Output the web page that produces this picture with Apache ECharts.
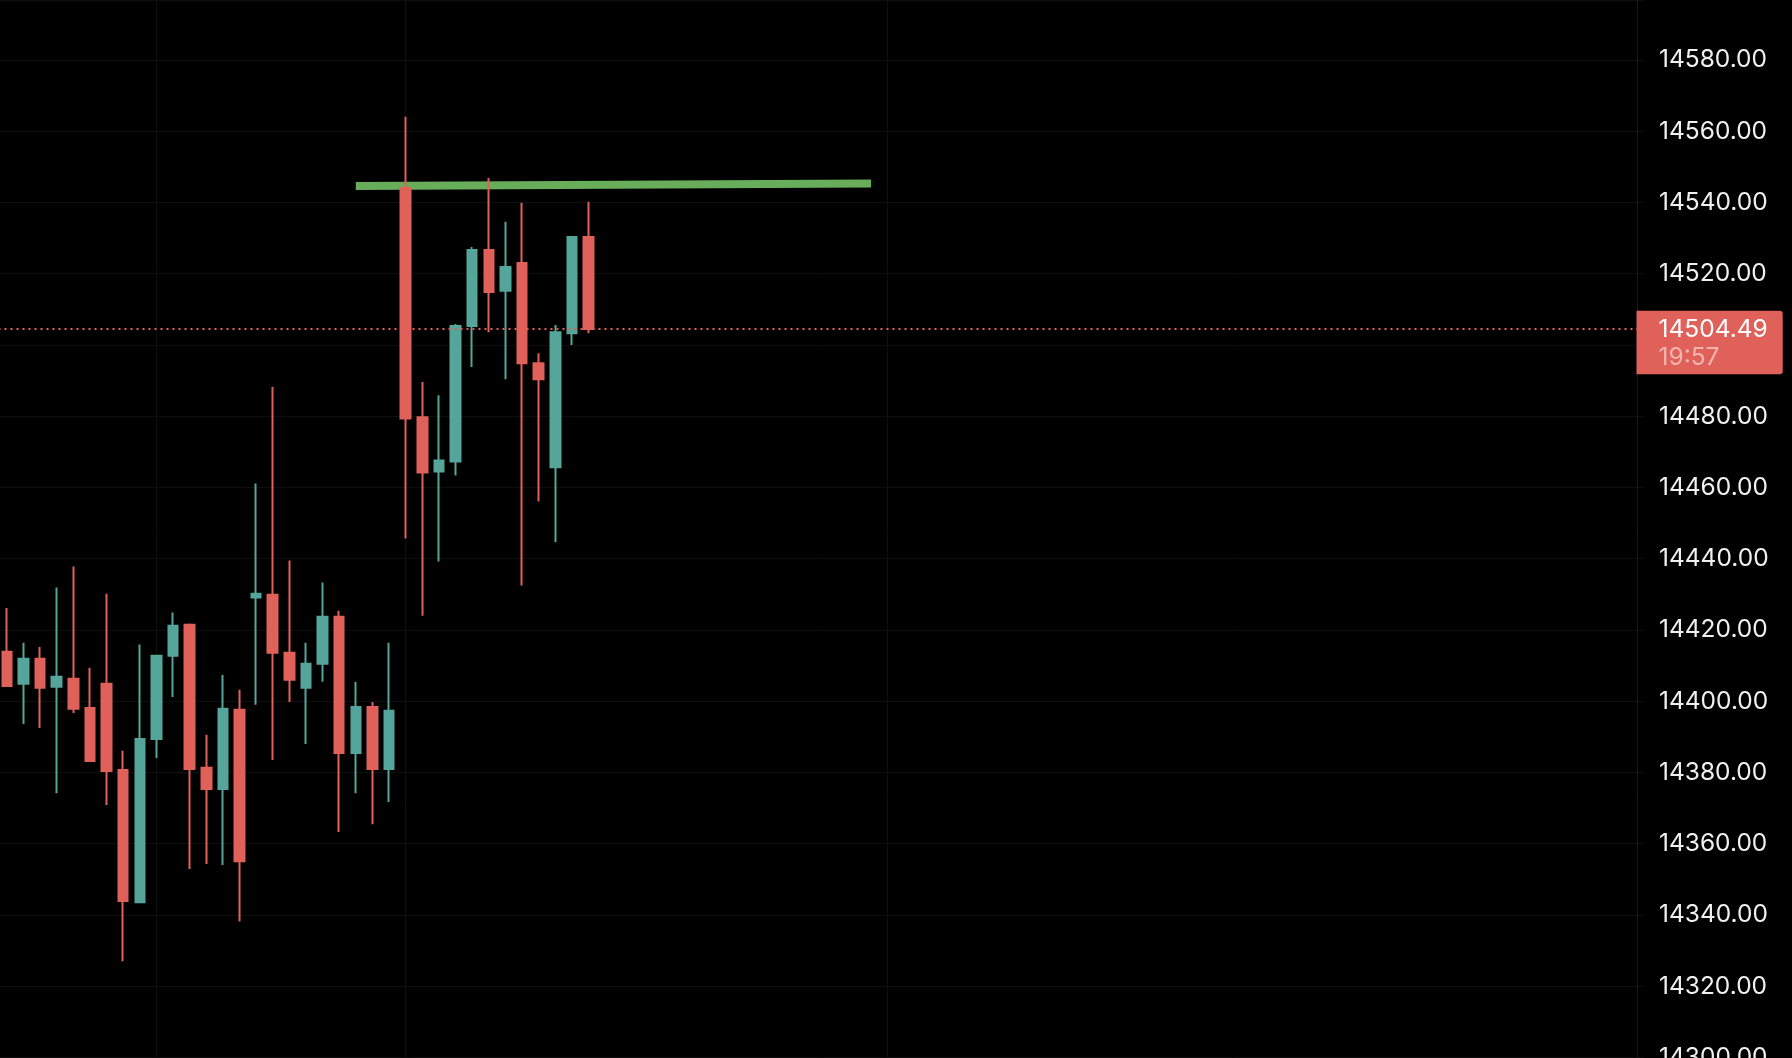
<!DOCTYPE html>
<html>
<head>
<meta charset="utf-8">
<script src="https://cdn.jsdelivr.net/npm/echarts@6/dist/echarts.min.js"></script>
<style>
html,body{margin:0;padding:0;background:#000;}
#chart{width:1792px;height:1058px;}
</style>
</head>
<body>
<div id="chart"></div>
<script>
// ---- data ----
const totalSlots = 99; // visible candle slots on the time axis
const categories = Array.from({length: totalSlots}, (_, i) => String(i));
const opens  = [14413.9,14404.9,14411.9,14404.1,14406.3,14398.1,14404.9,14380.7,14343.6,14389.4,14412.8,14421.5,14381.3,14375.4,14397.6,14429.1,14429.9,14413.6,14403.8,14410.5,14423.7,14385.5,14398.4,14381.0,14544.1,14479.7,14464.5,14467.3,14505.3,14526.7,14515.2,14523.0,14494.9,14465.7,14503.3,14530.3];
const closes = [14404.3,14411.9,14403.8,14406.9,14397.9,14383.2,14380.4,14343.9,14389.4,14412.8,14421.2,14381.0,14375.4,14397.9,14355.1,14430.2,14413.6,14406.0,14410.5,14423.7,14385.5,14398.4,14381.0,14397.3,14479.4,14464.2,14467.6,14505.3,14526.7,14514.9,14521.9,14494.9,14490.4,14503.6,14530.3,14504.49];
const lows   = [14404.0,14393.6,14392.5,14374.2,14396.7,14383.2,14370.9,14327.0,14343.6,14384.1,14401.2,14352.9,14354.3,14354.0,14338.2,14399.0,14383.5,14399.8,14388.0,14405.5,14363.3,14374.2,14365.5,14371.7,14445.7,14424.0,14439.2,14463.4,14493.8,14503.6,14490.4,14432.5,14456.1,14444.6,14500.0,14503.3];
const highs  = [14426.2,14416.4,14415.2,14431.9,14437.8,14409.4,14430.2,14386.1,14415.9,14412.8,14424.9,14421.8,14390.6,14407.4,14403.2,14461.1,14488.2,14439.5,14416.4,14433.3,14425.4,14405.5,14399.8,14416.4,14564.1,14489.6,14485.9,14505.9,14527.5,14546.9,14534.6,14539.9,14497.7,14505.6,14530.6,14540.2];
// trend line drawn on the chart: [slot index, price]
const trendLine = [[21, 14544.6], [52, 14545.3]];
// vertical time grid lines (slot indices)
const timeGridSlots = [9, 24, 53];
// y axis ticks
const yMin = 14300, yMax = 14596.84, yStep = 20;
const countdown = '19:57';

// ---- styles ----
const UP = '#55a59a', DOWN = '#e0605a';
const FONT = 'Inter';
const FS = 24.5;
const lastPrice = closes[closes.length - 1];

const candleData = opens.map((o, i) => [o, closes[i], lows[i], highs[i]]);

const chart = echarts.init(document.getElementById('chart'), null, {renderer: 'canvas'});
chart.setOption({
  backgroundColor: '#000000',
  animation: false,
  grid: {left: -1.5, top: 0, width: 1645.4, bottom: 0.5, containLabel: false, outerBoundsMode: 'none'},
  xAxis: {
    type: 'category',
    data: categories,
    boundaryGap: true,
    axisLine: {show: false}, axisTick: {show: false}, axisLabel: {show: false},
    splitLine: {show: false}
  },
  yAxis: {
    type: 'value',
    position: 'right',
    offset: -6.9,
    min: yMin, max: yMax, interval: yStep,
    axisLine: {show: true, lineStyle: {color: '#161616', width: 1}},
    axisTick: {show: false},
    splitLine: {show: true, lineStyle: {color: '#0e0e0e', width: 1}},
    axisLabel: {
      margin: 22,
      padding: [7, 0, 0, 0],
      color: '#f0f0f0',
      fontFamily: FONT,
      fontSize: FS,
      formatter: v => (Math.abs((v - yMin) % yStep) < 1e-6 || Math.abs((v - yMin) % yStep - yStep) < 1e-6) ? v.toFixed(2) : ''
    }
  },
  series: [
    {
      type: 'line',
      name: 'grid',
      data: [],
      z: 0,
      markLine: {
        silent: true,
        symbol: ['none', 'none'],
        z: 0,
        label: {show: false},
        lineStyle: {color: '#0f0f0f', width: 1, type: 'solid'},
        data: timeGridSlots.map(s => ({xAxis: s}))
      }
    },
    {
      type: 'line',
      name: 'trend',
      data: trendLine,
      z: 1,
      symbol: 'none',
      silent: true,
      lineStyle: {color: '#67ad5a', width: 8, cap: 'butt'}
    },
    {
      type: 'candlestick',
      name: 'price',
      data: candleData,
      z: 2,
      barWidth: 10,
      itemStyle: {
        color: UP, color0: DOWN,
        borderColor: UP, borderColor0: DOWN,
        borderColorDoji: UP,
        borderWidth: 2
      },
      markLine: {
        silent: true,
        symbol: ['none', 'none'],
        lineStyle: {color: DOWN, width: 2, type: [2, 4]},
        data: [{yAxis: lastPrice}],
        label: {
          show: true,
          position: 'end',
          distance: 0,
          offset: [-7.4, 13.5],
          formatter: () => '{p|' + lastPrice.toFixed(2) + '}\n{t|' + countdown + '}',
          backgroundColor: DOWN,
          borderRadius: [0, 3, 3, 0],
          padding: [5, 15, 2.6, 22],
          rich: {
            p: {color: '#ffffff', fontFamily: FONT, fontSize: FS, lineHeight: 28},
            t: {color: '#f3b4af', fontFamily: FONT, fontSize: FS, lineHeight: 28}
          }
        }
      }
    }
  ]
});
</script>
</body>
</html>
